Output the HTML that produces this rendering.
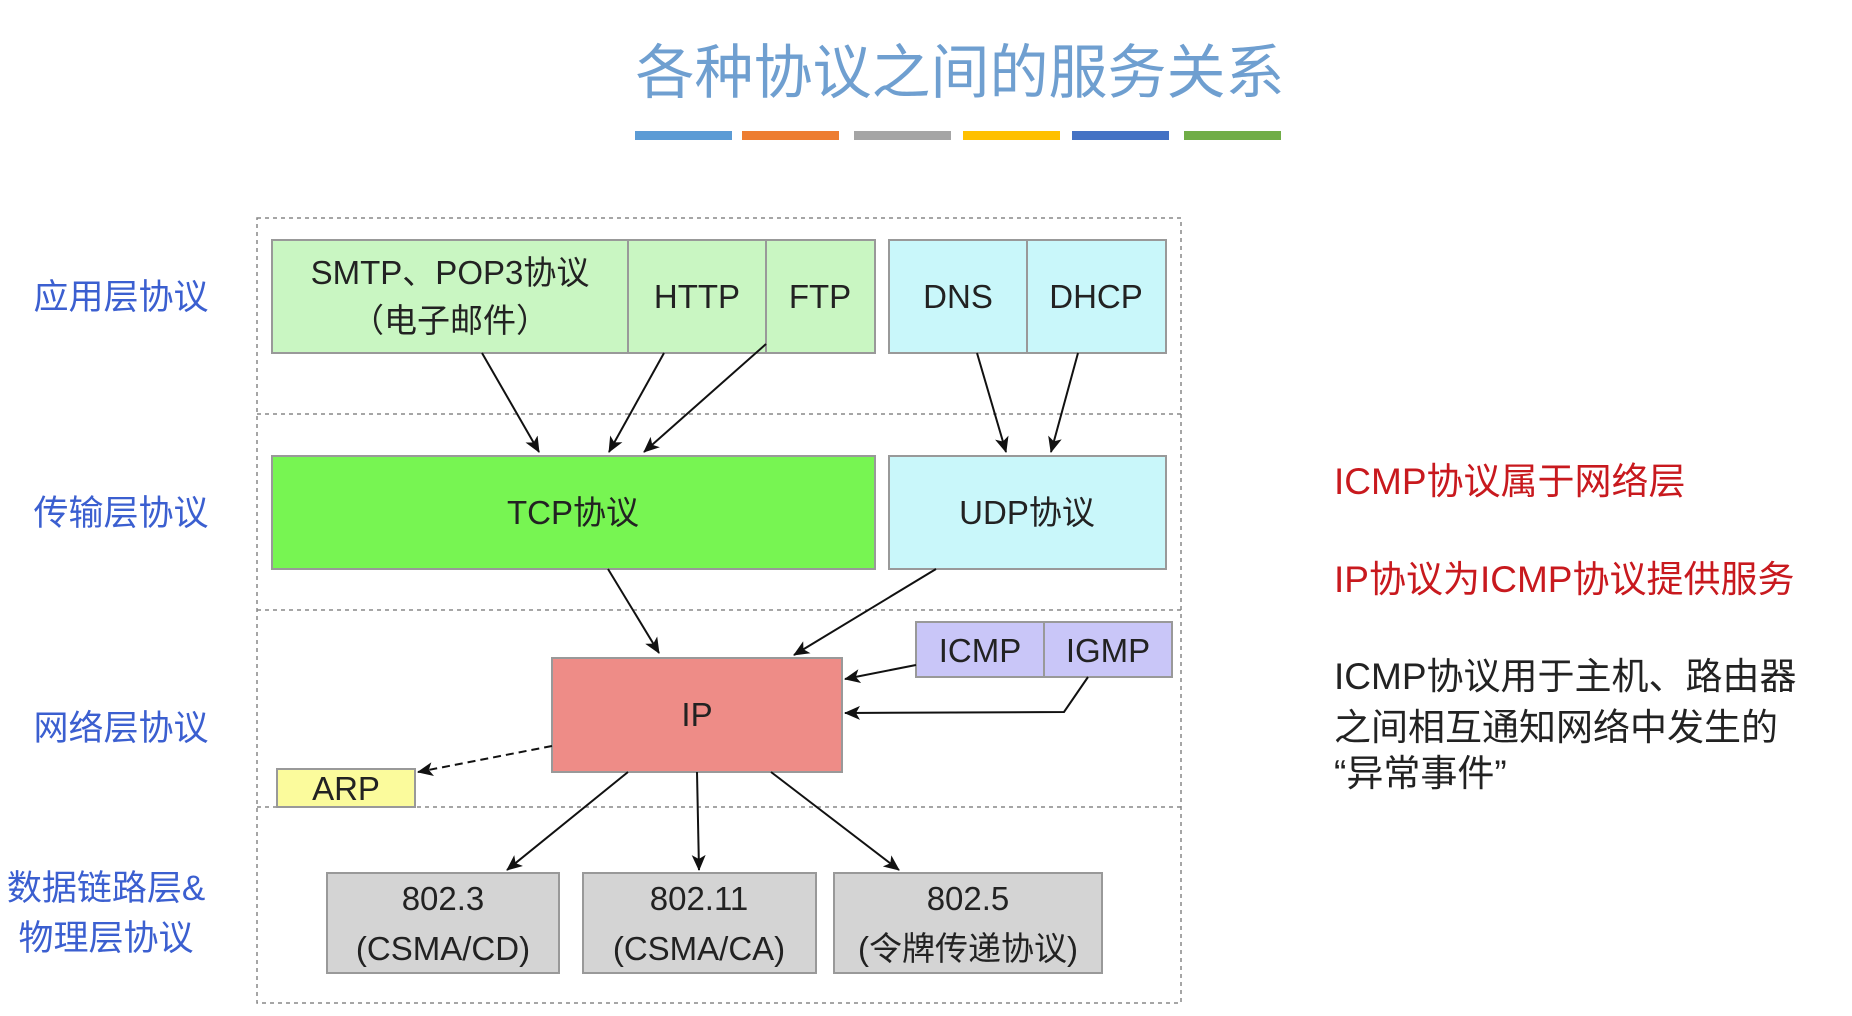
<!DOCTYPE html>
<html><head><meta charset="utf-8"><style>
body{margin:0;background:#fff;}
svg{display:block;font-family:"Liberation Sans","Noto Sans CJK SC",sans-serif;}
</style></head><body>
<svg width="1852" height="1016" viewBox="0 0 1852 1016" xmlns="http://www.w3.org/2000/svg">
<defs>
<marker id="a" markerWidth="16" markerHeight="14" refX="15" refY="7" orient="auto" markerUnits="userSpaceOnUse" viewBox="0 0 16 14">
<path d="M0,0 L16,7 L0,14 L4,7 z" fill="#111"/></marker>
</defs>
<rect width="1852" height="1016" fill="#fff"/>
<text x="960" y="93" font-size="59" fill="#6f9fd0" text-anchor="middle">各种协议之间的服务关系</text>
<g>
<rect x="635" y="131" width="97" height="9" fill="#5b9bd5"/>
<rect x="742" y="131" width="97" height="9" fill="#ed7d31"/>
<rect x="854" y="131" width="97" height="9" fill="#a5a5a5"/>
<rect x="963" y="131" width="97" height="9" fill="#ffc000"/>
<rect x="1072" y="131" width="97" height="9" fill="#4472c4"/>
<rect x="1184" y="131" width="97" height="9" fill="#70ad47"/>
</g>
<g stroke="#888" stroke-width="1.5" stroke-dasharray="4,4" fill="none">
<rect x="257" y="218" width="924" height="785"/>
<line x1="257" y1="414" x2="1181" y2="414"/>
<line x1="257" y1="610" x2="1181" y2="610"/>
<line x1="257" y1="807" x2="1181" y2="807"/>
</g>
<g stroke="#999" stroke-width="2">
<rect x="272" y="240" width="356" height="113" fill="#c9f6c2"/>
<rect x="628" y="240" width="138" height="113" fill="#c9f6c2"/>
<rect x="766" y="240" width="109" height="113" fill="#c9f6c2"/>
<rect x="889" y="240" width="138" height="113" fill="#c9f7fa"/>
<rect x="1027" y="240" width="139" height="113" fill="#c9f7fa"/>
<rect x="272" y="456" width="603" height="113" fill="#77f552"/>
<rect x="889" y="456" width="277" height="113" fill="#c9f7fa"/>
<rect x="552" y="658" width="290" height="114" fill="#ee8c87"/>
<rect x="916" y="622" width="128" height="55" fill="#c9c6f8"/>
<rect x="1044" y="622" width="128" height="55" fill="#c9c6f8"/>
<rect x="277" y="769" width="138" height="38" fill="#fbfb9c"/>
<rect x="327" y="873" width="232" height="100" fill="#d4d4d4"/>
<rect x="583" y="873" width="233" height="100" fill="#d4d4d4"/>
<rect x="834" y="873" width="268" height="100" fill="#d4d4d4"/>
</g>
<g font-size="33" fill="#222" text-anchor="middle">
<text x="450" y="284">SMTP、POP3协议</text>
<text x="450" y="332">（电子邮件）</text>
<text x="697" y="308">HTTP</text>
<text x="820" y="308">FTP</text>
<text x="958" y="308">DNS</text>
<text x="1096" y="308">DHCP</text>
<text x="573" y="524">TCP协议</text>
<text x="1027" y="524">UDP协议</text>
<text x="697" y="726">IP</text>
<text x="980" y="662">ICMP</text>
<text x="1108" y="662">IGMP</text>
<text x="346" y="800">ARP</text>
<text x="443" y="910">802.3</text>
<text x="443" y="960">(CSMA/CD)</text>
<text x="699" y="910">802.11</text>
<text x="699" y="960">(CSMA/CA)</text>
<text x="968" y="910">802.5</text>
<text x="968" y="960">(令牌传递协议)</text>
</g>
<g stroke="#111" stroke-width="2" fill="none" marker-end="url(#a)">
<line x1="482" y1="353" x2="539" y2="452"/>
<line x1="664" y1="353" x2="609" y2="452"/>
<line x1="766" y1="344" x2="644" y2="452"/>
<line x1="977" y1="353" x2="1006" y2="452"/>
<line x1="1078" y1="353" x2="1051" y2="452"/>
<line x1="608" y1="569" x2="659" y2="653"/>
<line x1="936" y1="569" x2="794" y2="655"/>
<line x1="916" y1="665" x2="845" y2="679"/>
<polyline points="1088,677 1064,712 845,713"/>
<line x1="552" y1="746" x2="418" y2="772" stroke-dasharray="8,5"/>
<line x1="628" y1="772" x2="507" y2="870"/>
<line x1="697" y1="772" x2="699" y2="870"/>
<line x1="771" y1="772" x2="899" y2="870"/>
</g>
<g font-size="35" fill="#3b5fd0" text-anchor="middle">
<text x="121" y="309">应用层协议</text>
<text x="121" y="525">传输层协议</text>
<text x="121" y="740">网络层协议</text>
<text x="106" y="900">数据链路层&amp;</text>
<text x="106" y="950">物理层协议</text>
</g>
<g font-size="37">
<text x="1334" y="494" fill="#c8191e">ICMP协议属于网络层</text>
<text x="1334" y="592" fill="#c8191e">IP协议为ICMP协议提供服务</text>
<text x="1334" y="689" fill="#222">ICMP协议用于主机、路由器</text>
<text x="1334" y="740" fill="#222">之间相互通知网络中发生的</text>
<text x="1334" y="786" fill="#222">“异常事件”</text>
</g>
</svg>
</body></html>
